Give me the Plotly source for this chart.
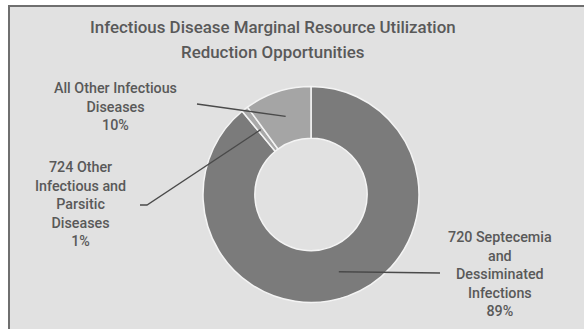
import math
import plotly.graph_objects as go

# Share of marginal resource utilization reduction, by diagnosis group
categories = [
    "720 Septecemia and Dessiminated Infections",
    "724 Other Infectious and Parsitic Diseases",
    "All Other Infectious Diseases",
]
values = [89, 1, 10]
label_texts = [
    "720 Septecemia<br>and<br>Dessiminated<br>Infections<br>89%",
    "724 Other<br>Infectious and<br>Parsitic<br>Diseases<br>1%",
    "All Other Infectious<br>Diseases<br>10%",
]
colors = ["#7b7b7b", "#a9a9a9", "#a5a5a5"]

W, H = 584, 329
FONT = "Roboto"
TEXT_COLOR = "#595959"

# donut geometry (pixels)
cx, cy, R = 311, 194.5, 108
HOLE = 0.52


def px(x):
    return x / W


def py(y):
    return 1 - y / H


fig = go.Figure(
    go.Pie(
        labels=categories,
        values=values,
        sort=False,
        direction="clockwise",
        rotation=0,
        hole=HOLE,
        marker=dict(colors=colors, line=dict(color="#f4f4f4", width=1.5)),
        textinfo="none",
        hoverinfo="label+percent",
        showlegend=False,
        domain=dict(x=[px(cx - R), px(cx + R)], y=[py(cy + R), py(cy - R)]),
    )
)

# label positions and where their leader lines end on the label side
label_pos = [(500, 274), (80, 204), (115, 106)]
line_ends = [[(440, 273)], [(147, 205), (140, 205)], [(197, 104)]]

total = sum(values)
r_mid = R * (1 + HOLE) / 2
shapes = [
    dict(type="rect", xref="paper", yref="paper",
         x0=px(9), x1=px(W + 10), y0=py(H + 10), y1=py(6),
         fillcolor="#e1e1e1", line=dict(color="#6f6f6f", width=2), layer="below")
]
annotations = []
cum = 0
for v, txt, (lx, ly), ends in zip(values, label_texts, label_pos, line_ends):
    mid = (cum + v / 2) / total * 2 * math.pi
    cum += v
    sx = cx + r_mid * math.sin(mid)
    sy = cy - r_mid * math.cos(mid)
    pts = [(sx, sy)] + ends
    path = "M " + " L ".join(f"{px(x)},{py(y)}" for x, y in pts)
    shapes.append(dict(type="path", xref="paper", yref="paper", path=path,
                       line=dict(color="#4a4a4a", width=1.3)))
    annotations.append(dict(
        x=px(lx), y=py(ly), xref="paper", yref="paper", text=txt, showarrow=False,
        align="center", xanchor="center", yanchor="middle",
        font=dict(family=FONT, size=14.3, color=TEXT_COLOR, weight=500),
    ))

# two-line title
for t, ty in [("Infectious Disease Marginal Resource Utilization", 27),
              ("Reduction Opportunities", 52)]:
    annotations.append(dict(
        x=px(273), y=py(ty), xref="paper", yref="paper", text=t, showarrow=False,
        xanchor="center", yanchor="middle",
        font=dict(family=FONT, size=16.9, color=TEXT_COLOR, weight=500),
    ))

fig.update_layout(
    width=W, height=H,
    margin=dict(l=0, r=0, t=0, b=0),
    paper_bgcolor="white",
    plot_bgcolor="white",
    shapes=shapes,
    annotations=annotations,
)

fig.write_html("out.html")
